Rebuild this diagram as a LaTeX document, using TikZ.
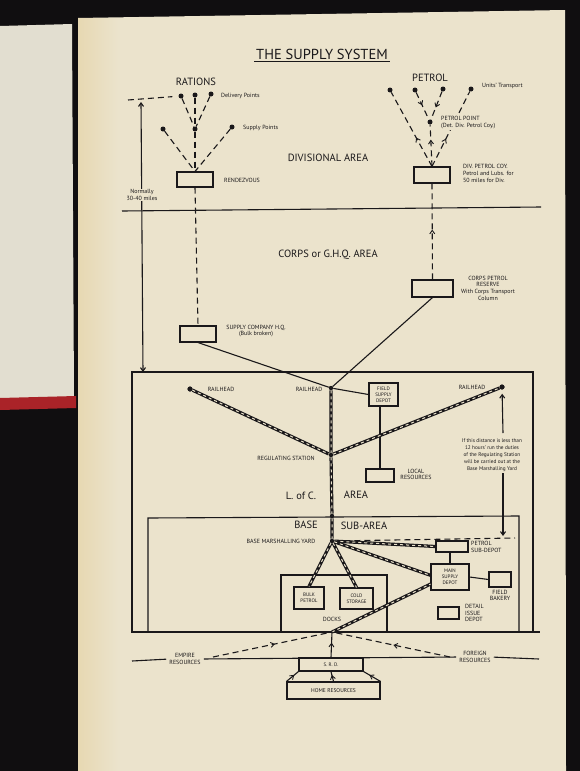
\documentclass[tikz,border=0pt]{standalone}
\usepackage{fontspec}
\setmainfont{PT Sans}
\usetikzlibrary{arrows.meta,decorations.markings}
\definecolor{paper}{RGB}{235,227,204}
\definecolor{paperL}{RGB}{231,216,178}
\definecolor{ink}{RGB}{26,24,26}
\definecolor{bgc}{RGB}{16,14,16}
\definecolor{leftpage}{RGB}{226,222,208}
\definecolor{redstrip}{RGB}{170,35,40}
\begin{document}
\begin{tikzpicture}[x=1pt,y=-1pt,
  >={Straight Barb[length=3.5pt,width=5pt]},
  ln/.style={draw=ink, line width=1.1pt},
  dsh/.style={draw=ink, line width=1.1pt, dash pattern=on 6pt off 4pt},
  rail/.style={draw=ink, line width=3.2pt, postaction={draw=paper, line width=1pt, dash pattern=on 3pt off 3pt}},
  dot/.style={circle, fill=ink, inner sep=0pt, minimum size=5pt},
  jn/.style={circle, fill=ink, inner sep=0pt, minimum size=4.2pt},
  bx/.style={draw=ink, line width=1.1pt, inner sep=0pt, align=center, text=ink, font=\fontsize{5}{5.8}\selectfont},
  sm/.style={font=\fontsize{6}{6.6}\selectfont, inner sep=0pt, align=center, text=ink},
  big/.style={font=\fontsize{10.5}{12}\selectfont, inner sep=0pt, text=ink},
  midarr/.style={postaction={decorate, decoration={markings, mark=at position #1 with {\arrow[ink, line width=0.9pt]{>}}}}}
]
\useasboundingbox (0,0) rectangle (580,771);
\fill[bgc] (0,0) rectangle (580,771);
% pages
\fill[leftpage] (0,26) -- (72,24) -- (74,398) -- (0,400) -- cycle;
\fill[redstrip] (0,398) -- (76,396) -- (76,408) -- (0,410) -- cycle;
\fill[paper] (78,18) -- (565,10) -- (566,771) -- (78,771) -- cycle;
\shade[left color=paperL, right color=paper] (78,18) rectangle (118,771);

% title
\node[font=\fontsize{14.5}{16}\selectfont, inner sep=2pt, text=ink] (ttl) at (322,54) {THE SUPPLY SYSTEM};
\draw[ln, line width=1.2pt] (ttl.south west) -- (ttl.south east);

% ---------- rations ----------
\node[big] (rat) at (196,82) {RATIONS};
\node[dot] (dl) at (181,96) {};
\node[dot] (dc) at (195,95) {};
\node[dot] (dr) at (211,94) {};
\node[dot] (sp) at (195,129) {};
\node[dot] (sl) at (163,129) {};
\node[dot] (sr) at (232,127) {};
\node[sm, anchor=west] (dpt) at (221,96) {Delivery Points};
\node[sm, anchor=west] (spt) at (243,128) {Supply Points};
\node[bx, minimum width=36pt, minimum height=15pt] (rv) at (195,179.5) {};
\node[sm, anchor=west] (rvt) at (224,180) {RENDEZVOUS};
\coordinate (ha) at (128,100);
\draw[dsh, shorten >=6pt] (ha) -- (dl);
\draw[dsh] (dl) -- (sp);
\draw[dsh] (dc) -- (sp);
\draw[dsh] (dr) -- (sp);
\draw[dsh] (sl) -- (rv.north);
\draw[dsh] (sp) -- (rv.north);
\draw[dsh] (sr) -- (rv.north);

% normally arrow
\coordinate (na) at (141,102);
\coordinate (nb) at (143,372);
\draw[ln, <->] (na) -- (nb);
\node[sm, fill=paper, inner sep=1pt] (nrm) at (142,195) {Normally\\30-40 miles};

% ---------- petrol ----------
\node[big] (pet) at (430,78) {PETROL};
\node[dot] (p1) at (390,90) {};
\node[dot] (p2) at (415,90) {};
\node[dot] (p3) at (443,89) {};
\node[dot] (p4) at (471,89) {};
\node[dot] (pp) at (430,122) {};
\node[sm, anchor=west] (ut) at (482,86) {Units' Transport};
\node[bx, minimum width=36pt, minimum height=16pt] (pb) at (432,175) {};
\draw[dsh, midarr=0.39] (pb.north) -- (p1);
\draw[dsh, midarr=0.37] (pb.north) -- (p4);
\draw[dsh, midarr=0.64] (pb.north) -- (pp);
\draw[dsh, midarr=0.47] (p2) -- (pp);
\draw[dsh, midarr=0.57] (p3) -- (pp);
\node[sm, anchor=north west, align=left, fill=paper, inner sep=1pt] (ppt) at (440,115.5) {PETROL POINT\\(Det. Div. Petrol Coy.)};
\node[sm, anchor=north west, align=left] (pbt) at (463,164.5) {DIV. PETROL COY.\\Petrol and Lubs. for\\50 miles for Div.};

% area divider
\coordinate (dv1) at (122,211);
\coordinate (dv2) at (541,207);
\draw[ln] (dv1) -- (dv2);
\node[big] (div) at (328,158) {DIVISIONAL AREA};
\node[big] (corps) at (328,255) {CORPS or G.H.Q. AREA};

% corps petrol reserve
\node[bx, minimum width=41pt, minimum height=17pt] (cpr) at (432.5,288.5) {};
\node[sm] (cprt) at (488,288) {CORPS PETROL\\RESERVE\\With Corps Transport\\Column};
\draw[dsh, midarr=0.52] (cpr.north) -- (pb.south);

% supply company HQ
\node[bx, minimum width=36pt, minimum height=16pt] (shq) at (198,334) {};
\node[sm] (shqt) at (256,331) {SUPPLY COMPANY H.Q.\\(Bulk broken)};
\draw[dsh] (rv.south) -- (shq.north);

% ---------- L of C area ----------
\draw[ln] (132,372) rectangle (533,632);
\draw[ln] (533,632) -- (540,632);
\draw[ln] (148,632) -- (148,518) -- (519,516) -- (519,632);
\node[big] (loc) at (301,496) {L. of C.};
\node[big] (area) at (356,495) {AREA};
\node[big] (base) at (306,525) {BASE};
\node[big] (sub) at (364,526) {SUB-AREA};

\node[jn] (rc) at (331,388) {};
\node[dot] (rl) at (190,389) {};
\node[dot] (rr) at (502,387) {};
\node[jn] (rs) at (331,455) {};
\node[jn] (bj) at (332,516) {};
\node[jn] (my) at (332,541) {};
\coordinate (dj) at (332,632);

\node[sm] (rlt) at (221,389) {RAILHEAD};
\node[sm] (rct) at (309,389) {RAILHEAD};
\node[sm] (rrt) at (472,387) {RAILHEAD};
\node[sm] (rst) at (286,458) {REGULATING STATION};
\node[sm] (myt) at (281,541) {BASE MARSHALLING YARD};

\node[bx, minimum width=29pt, minimum height=23pt] (fsd) at (383.5,394.5) {FIELD\\SUPPLY\\DEPOT};
\node[bx, minimum width=28pt, minimum height=13pt] (lr) at (380,475.5) {};
\node[sm] (lrt) at (416,474.5) {LOCAL\\RESOURCES};

\draw[ln] (shq.south) -- (rc);
\draw[ln] (cpr.south) -- (rc);
\draw[ln] (rc) -- (fsd.west);
\draw[ln] (lr.north |- fsd.south) -- (lr.north);

% note
\node[sm, font=\fontsize{5.3}{6.9}\selectfont] (note) at (492,455) {If this distance is less than\\12 hours' run the duties\\of the Regulating Station\\will be carried out at the\\Base Marshalling Yard};
\coordinate (n1) at (503,433);
\coordinate (n2) at (503,473);
\coordinate (n3) at (503,536);
\draw[ln, ->, shorten >=4pt] (n1) -- (rr);
\draw[ln, ->] (n2) -- (n3);

% base boxes
\node[bx, minimum width=32pt, minimum height=11pt] (psd) at (452,546.5) {};
\node[sm, anchor=west, align=left] (psdt) at (471,547) {PETROL\\SUB-DEPOT};
\node[bx, minimum width=38pt, minimum height=26pt] (msd) at (450,577) {MAIN\\SUPPLY\\DEPOT};
\node[bx, minimum width=22pt, minimum height=15pt] (fb) at (500,579.5) {};
\node[sm] (fbt) at (500,595.5) {FIELD\\BAKERY};
\node[bx, minimum width=21pt, minimum height=12pt] (did) at (448.5,613) {};
\node[sm, anchor=west, align=left] (didt) at (465,613) {DETAIL\\ISSUE\\DEPOT};
\draw[ln] (msd.north) -- (msd.north |- psd.south);
\draw[ln] (msd.east) -- (fb.west);

\draw[ln] (281,632) -- (281,575) -- (387,575) -- (387,632);
\node[bx, minimum width=30pt, minimum height=22pt] (bp) at (309,598) {BULK\\PETROL};
\node[bx, minimum width=33pt, minimum height=21pt] (cs) at (356.5,598.5) {COLD\\STORAGE};
\node[sm] (docks) at (332,619) {DOCKS};

% dashed yard line
\coordinate (yd) at (515,538);
\draw[dsh] (my) -- (yd);

% rails
\draw[rail] (rl) -- (rs);
\draw[rail] (rs) -- (rr);
\draw[rail] (rc) -- (rs) -- (bj) -- (my);
\draw[rail] (my) -- (bp.north);
\draw[rail] (my) -- (cs.north);
\draw[rail] (my) -- (psd.west);
\draw[rail] (my) -- (msd.175);
\draw[rail] (dj) -- (msd.200);
\node[jn] at (rc) {};
\node[jn] at (rs) {};
\node[jn] at (bj) {};
\node[jn] at (my) {};
\node[dot] at (rl) {};
\node[dot] at (rr) {};

% ---------- bottom resources ----------
\node[sm] (emp) at (185,659) {EMPIRE\\RESOURCES};
\node[sm] (for) at (475,657) {FOREIGN\\RESOURCES};
\coordinate (bl) at (132,661);
\coordinate (br) at (539,659);
\draw[ln, shorten >=3pt] (bl) -- (emp.west);
\draw[ln, shorten <=3pt, shorten >=3pt] (emp.east) -- (for.west);
\draw[ln, shorten <=3pt] (for.east) -- (br);
\node[bx, minimum width=64pt, minimum height=13pt] (srd) at (331,664.5) {S. R. D.};
\node[bx, minimum width=93pt, minimum height=17pt, font=\fontsize{5.5}{6}\selectfont] (home) at (333.5,690.5) {HOME RESOURCES};
\coordinate (ea) at (213,657);
\coordinate (fa) at (450,657);
\draw[dsh, midarr=0.52] (ea) -- (dj);
\draw[dsh, midarr=0.48] (fa) -- (dj);
\draw[ln, midarr=0.58] (srd.north) -- (dj);
\draw[ln, midarr=0.65] (home.north west) -- (srd.south west);
\draw[ln, midarr=0.65] (home.north) -- (srd.south);
\draw[ln, midarr=0.65] (home.north east) -- (srd.south east);
\end{tikzpicture}
\end{document}
